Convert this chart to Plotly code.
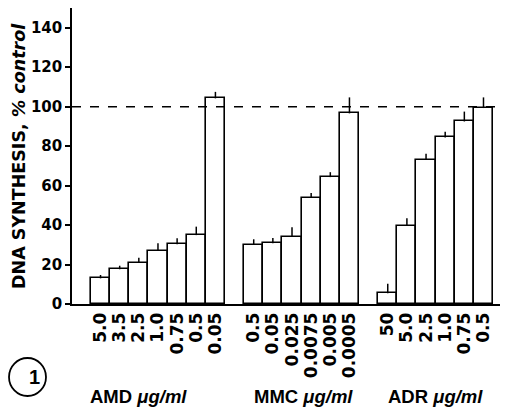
import plotly.graph_objects as go

amd_labels = ["5.0", "3.5", "2.5", "1.0", "0.75", "0.5", "0.05"]
amd_values = [13.0, 17.6, 21.0, 26.9, 30.3, 34.9, 104.2]
amd_err = [1.7, 1.8, 2.5, 3.9, 3.0, 4.3, 3.3]

mmc_labels = ["0.5", "0.05", "0.025", "0.0075", "0.005", "0.0005"]
mmc_values = [30.1, 30.8, 33.9, 53.8, 64.3, 96.6]
mmc_err = [2.7, 2.7, 5.0, 2.4, 2.5, 8.1]

adr_labels = ["50", "5.0", "2.5", "1.0", "0.75", "0.5"]
adr_values = [5.4, 39.7, 73.1, 84.4, 92.5, 99.3]
adr_err = [4.8, 3.8, 3.0, 2.9, 5.0, 5.4]

group_names = ["AMD", "MMC", "ADR"]
control_level = 100
y_ticks = [0, 20, 40, 60, 80, 100, 120, 140]
y_title = "<b>DNA SYNTHESIS, <i>% control</i></b>"

# positions: groups separated by one empty slot
pos_amd = list(range(0, 7))
pos_mmc = list(range(8, 14))
pos_adr = list(range(15, 21))

x = pos_amd + pos_mmc + pos_adr
y = amd_values + mmc_values + adr_values
err = amd_err + mmc_err + adr_err
labels = amd_labels + mmc_labels + adr_labels

font_fam = "DejaVu Sans"
label_fam = "Liberation Sans"

# page body has an 8px margin; work in screen pixels and convert
OFF = 8
FW, FH = 500, 403
L, R, T, B = 72 - OFF, 508 - OFF, 8 - OFF, 304 - OFF
PW, PH = R - L, B - T


def px(xs):
    return (xs - OFF - L) / PW


def py(ys):
    return (B - (ys - OFF)) / PH


fig = go.Figure()
fig.add_trace(go.Bar(
    x=x, y=y, width=1.0,
    marker=dict(color="white", line=dict(color="black", width=1.6)),
    error_y=dict(type="data", symmetric=False, array=err,
                 arrayminus=[0] * len(err), color="black",
                 thickness=1.5, width=0),
    showlegend=False,
))

fig.add_shape(type="line", xref="paper", x0=0, x1=1, yref="y",
              y0=control_level, y1=control_level,
              line=dict(color="black", width=1.5, dash="dash"))

# circled figure number
fig.add_shape(type="circle", xref="paper", yref="paper",
              x0=px(9), x1=px(46), y0=py(396), y1=py(358),
              line=dict(color="black", width=1.8))
fig.add_annotation(xref="paper", yref="paper", x=px(27), y=py(377),
                   text="<b>1</b>", showarrow=False, yanchor="middle",
                   font=dict(family=label_fam, size=20, color="black"))

# y-axis title
fig.add_annotation(xref="paper", yref="paper", x=px(19), y=py(156),
                   text=y_title, textangle=-90, showarrow=False,
                   xanchor="center", yanchor="middle",
                   font=dict(family=font_fam, size=17.5, color="black"))

group_x = [1.97, 10.6, 17.5]
for name, gx in zip(group_names, group_x):
    fig.add_annotation(xref="x", yref="paper", x=gx, y=py(396),
                       yanchor="middle",
                       text=f"<b>{name} <i>μg/ml</i></b>", showarrow=False,
                       font=dict(family=label_fam, size=18.5, color="black"))

fig.update_layout(
    width=FW, height=FH,
    margin=dict(l=L, r=FW - R, t=T, b=FH - B, pad=0, autoexpand=False),
    paper_bgcolor="white", plot_bgcolor="white",
    bargap=0,
    font=dict(family=font_fam, color="black"),
)
fig.update_xaxes(
    range=[-1.49, 21.28], tickmode="array", tickvals=x, ticktext=labels,
    tickangle=-90, ticks="", showgrid=False, zeroline=False,
    showline=True, mirror=True, linecolor="black", linewidth=1.6,
    automargin=False,
    tickfont=dict(family=font_fam, size=17, color="black", weight="bold"),
)
fig.update_yaxes(
    range=[0, 150], tickmode="array", tickvals=y_ticks,
    ticks="outside", ticklen=5, tickwidth=1.5, tickcolor="black",
    showgrid=False, zeroline=False, showline=True, linecolor="black",
    linewidth=1.6, automargin=False,
    tickfont=dict(family=font_fam, size=15, color="black", weight="bold"),
)

fig.write_html("out.html")
